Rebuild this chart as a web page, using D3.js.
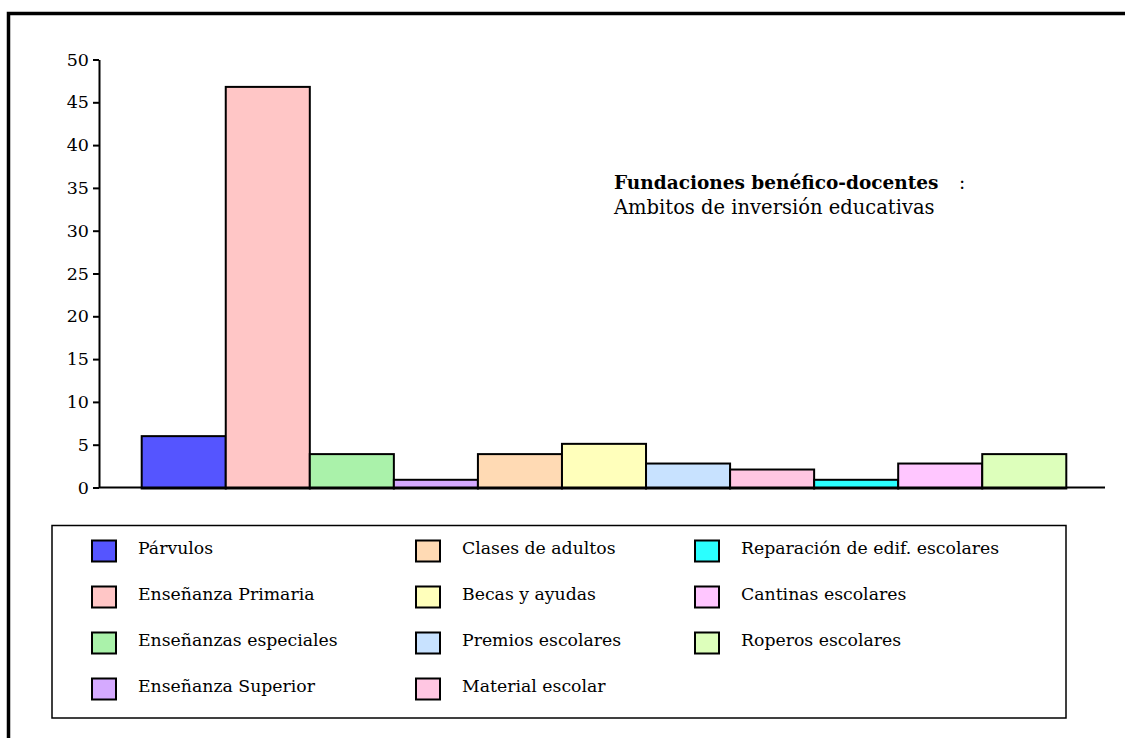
<!DOCTYPE html>
<html>
<head>
<meta charset="utf-8">
<script src="https://cdn.jsdelivr.net/npm/d3@7"></script>
<style>
  html, body { margin: 0; padding: 0; background: #fff; }
  svg { display: block; }
  text { font-family: "DejaVu Serif", serif; fill: #000; }
</style>
</head>
<body>
<svg id="chart" width="1125" height="738"></svg>
<script>
// ---- data ----
const categories = [
  "Párvulos", "Enseñanza Primaria", "Enseñanzas especiales", "Enseñanza Superior",
  "Clases de adultos", "Becas y ayudas", "Premios escolares", "Material escolar",
  "Reparación de edif. escolares", "Cantinas escolares", "Roperos escolares"
];
const values = [6.0, 46.8, 3.9, 0.9, 3.9, 5.1, 2.8, 2.1, 0.9, 2.8, 3.9];
const colors = [
  "#5555FF", "#FFC6C6", "#AAF2AA", "#D5AAFF",
  "#FFDAB4", "#FFFFBB", "#C8E2FF", "#FFC6E2",
  "#2BFFFF", "#FFC6FF", "#DDFFBB"
];
const yTicks = [0, 5, 10, 15, 20, 25, 30, 35, 40, 45, 50];
const titleBold = "Fundaciones benéfico-docentes";
const titleSub = "Ambitos de inversión educativas";

// ---- drawing ----
const svg = d3.select("#chart");

// outer frame (extends beyond the viewport on right/bottom)
svg.append("rect")
  .attr("x", 8.5).attr("y", 13.5)
  .attr("width", 1140).attr("height", 800)
  .attr("fill", "none").attr("stroke", "#000").attr("stroke-width", 3.5);

const y = d3.scaleLinear().domain([0, 50]).range([487.5, 59.5]);
const x = d3.scaleBand().domain(categories).range([141.7, 1066.3]).padding(0);

// bars
svg.append("g").selectAll("rect")
  .data(categories)
  .join("rect")
  .attr("x", d => x(d))
  .attr("y", (d, i) => y(values[i]))
  .attr("width", x.bandwidth())
  .attr("height", (d, i) => y(0) - y(values[i]) + 1)
  .attr("fill", (d, i) => colors[i])
  .attr("stroke", "#000")
  .attr("stroke-width", 2);

// x axis baseline
svg.append("line")
  .attr("x1", 99).attr("x2", 1105)
  .attr("y1", y(0)).attr("y2", y(0))
  .attr("stroke", "#000").attr("stroke-width", 2);

// y axis
const yAxis = d3.axisLeft(y).tickValues(yTicks).tickSize(6).tickPadding(4).tickSizeOuter(0);
const gy = svg.append("g").attr("transform", "translate(99,0)").call(yAxis);
gy.select(".domain").attr("stroke", "#000").attr("stroke-width", 2);
gy.selectAll(".tick line").attr("stroke", "#000").attr("stroke-width", 2);
gy.selectAll(".tick text")
  .attr("font-family", "DejaVu Serif").attr("font-size", 17.5).attr("fill", "#000");

// title
svg.append("text").attr("x", 614).attr("y", 189)
  .attr("font-size", 18.5).attr("font-weight", "bold").text(titleBold);
svg.append("text").attr("x", 959).attr("y", 189)
  .attr("font-size", 18.5).text(":");
svg.append("text").attr("x", 614).attr("y", 214)
  .attr("font-size", 19.5).text(titleSub);

// legend
svg.append("rect")
  .attr("x", 52).attr("y", 525.5).attr("width", 1014).attr("height", 192.5)
  .attr("fill", "none").attr("stroke", "#000").attr("stroke-width", 1.5);

const colSwatchX = [92, 416, 695];
const colTextX = [138, 462, 741];
const rowTop = [540.5, 586.5, 632.5, 678.5];
const lg = svg.append("g").selectAll("g")
  .data(categories)
  .join("g")
  .attr("transform", (d, i) => {
    const c = Math.floor(i / 4), r = i % 4;
    return `translate(${colSwatchX[c]},${rowTop[r]})`;
  });
lg.append("rect")
  .attr("width", 24).attr("height", 21)
  .attr("fill", (d, i) => colors[i])
  .attr("stroke", "#000").attr("stroke-width", 2);
lg.append("text")
  .attr("x", (d, i) => colTextX[Math.floor(i / 4)] - colSwatchX[Math.floor(i / 4)])
  .attr("y", 13.5)
  .attr("font-size", 17.3)
  .text(d => d);
</script>
</body>
</html>
